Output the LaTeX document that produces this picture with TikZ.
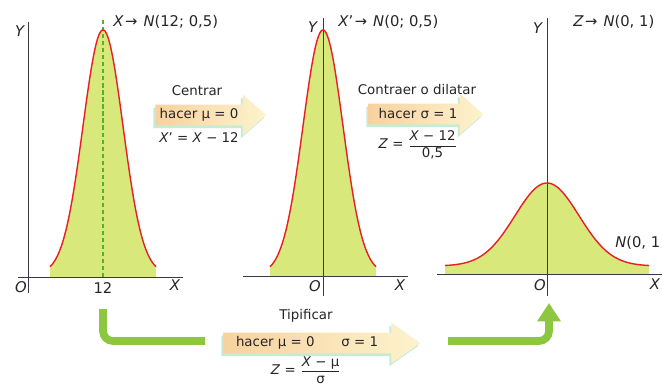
\documentclass[tikz,border=0pt]{standalone}
\usepackage{amsmath}
\usepackage{fontspec}
\setmainfont{DejaVu Sans}
\usetikzlibrary{arrows.meta,shapes.arrows,shadows}

\definecolor{bellfill}{RGB}{216,232,122}
\definecolor{bellred}{RGB}{232,30,40}
\definecolor{stepgreen}{RGB}{141,198,63}
\definecolor{dashgreen}{RGB}{90,175,45}
\definecolor{tanleft}{RGB}{247,210,158}
\definecolor{tanright}{RGB}{253,243,205}
\definecolor{mint}{RGB}{198,236,214}
\definecolor{inkgray}{RGB}{40,36,40}
\definecolor{axisgray}{RGB}{60,55,70}

\begin{document}
\begin{tikzpicture}[
    x=0.025cm, y=-0.025cm,
    declare function={bell(\t,\s)=exp(-(\t*\t)/(2*\s*\s));},
    axisline/.style={axisgray, line width=0.6pt},
    bellcurve/.style={bellred, line width=1pt},
    lbl/.style={inkgray, font=\fontsize{10.5}{12}\selectfont, inner sep=0pt},
    txt/.style={inkgray, font=\fontsize{9.5}{11}\selectfont, inner sep=0pt},
    band/.style={single arrow, inner xsep=0pt, inner ysep=0.25cm, single arrow head extend=0.25cm, single arrow tip angle=82, anchor=tail, left color=tanleft, right color=tanright, draw=none, drop shadow={shadow xshift=-0.05cm, shadow yshift=-0.07cm, fill=mint, opacity=1}},
    greenbar/.style={stepgreen, line width=5.5pt, rounded corners=0.25cm}
]
    \fill[white] (0,0) rectangle (662,389);
    \useasboundingbox (0,0) rectangle (662,389);

    % areas under the bells
    \fill[bellfill] (50,277) -- plot[domain=-53:53, samples=90, variable=\t] ({103+\t},{274-244*bell(\t,20)}) -- (156,277) -- cycle;
    \fill[bellfill] (270,276) -- plot[domain=-53:53, samples=90, variable=\t] ({323+\t},{274-244*bell(\t,20)}) -- (376,276) -- cycle;
    \fill[bellfill] (445,274) -- plot[domain=-102:102, samples=120, variable=\t] ({547+\t},{266-83*bell(\t,32)}) -- (649,274) -- cycle;

    % axes
    \draw[axisline] (28,22) -- (28,293);
    \draw[axisline] (18,277) -- (183,277);
    \draw[axisline] (323,18) -- (323,296);
    \draw[axisline] (243,276) -- (408,276);
    \draw[axisline] (547,18) -- (547,296);
    \draw[axisline] (437,274) -- (662,274);
    \draw[dashgreen, line width=0.8pt, dash pattern=on 3pt off 2pt] (103,20) -- (103,277);

    % bells
    \draw[bellcurve] plot[domain=-53:53, samples=90, variable=\t] ({103+\t},{274-244*bell(\t,20)});
    \draw[bellcurve] plot[domain=-53:53, samples=90, variable=\t] ({323+\t},{274-244*bell(\t,20)});
    \draw[bellcurve] plot[domain=-102:102, samples=120, variable=\t] ({547+\t},{266-83*bell(\t,32)});

    % axis labels
    \node[lbl] (yA) at (20,31) {\textit{Y}};
    \node[lbl] (oA) at (21,287) {\textit{O}};
    \node[lbl] (mu12) at (103,288) {12};
    \node[lbl] (xA) at (175,285) {\textit{X}};
    \node[lbl, anchor=west] (lawA) at (113,22) {\textit{X}\kern1pt→\kern1pt\ \textit{N}(12; 0,5)};
    \node[lbl] (yB) at (313,27) {\textit{Y}};
    \node[lbl] (oB) at (315,286) {\textit{O}};
    \node[lbl] (xB) at (400,285) {\textit{X}};
    \node[lbl, anchor=west] (lawB) at (338,22) {\textit{X}’\kern1pt→\kern1pt\ \textit{N}(0; 0,5)};
    \node[lbl] (yC) at (538,28) {\textit{Y}};
    \node[lbl] (oC) at (540,285) {\textit{O}};
    \node[lbl] (xC) at (655,284) {\textit{X}};
    \node[lbl, anchor=west] (lawC) at (573,22) {\textit{Z}\kern1pt→\kern1pt\ \textit{N}(0, 1)};
    \node[lbl, anchor=west] (normC) at (615,243) {\textit{N}(0, 1};

    % pale arrows
    \node[band, minimum height=2.775cm] (bandA) at (155,115) {};
    \node[band, minimum height=2.875cm] (bandB) at (368,114) {};
    \node[band, minimum height=4.925cm, single arrow tip angle=70] (bandC) at (223,343) {};

    \node[txt] (centrar) at (197,91) {Centrar};
    \node[txt] (hacerA) at (199,115) {hacer μ = 0};
    \node[txt] (shiftA) at (199,138) {\textit{X}’ = \textit{X} − 12};
    \node[txt] (contraer) at (417,90) {Contraer o dilatar};
    \node[txt] (hacerB) at (418,114) {hacer σ = 1};
    \node[txt] (scaleB) at (418,145) {\textit{Z} = $\dfrac{\text{\textit{X} − 12}}{\text{0,5}}$};
    \node[txt] (tipificar) at (306,316) {Tipificar};
    \node[txt] (hacerC) at (307,343) {hacer μ = 0\qquad σ = 1};
    \node[txt] (standC) at (306,370) {\textit{Z} = $\dfrac{\text{\textit{X} − μ}}{\text{σ}}$};

    % green steps
    \coordinate (dropA) at (103,309);
    \coordinate (runA) at (205,341);
    \coordinate (runB) at (448,341);
    \coordinate (riseB) at (549,303);
    \draw[greenbar] (dropA) |- (runA);
    \draw[greenbar, -{Triangle[width=16pt,length=13pt]}] (runB) -| (riseB);
\end{tikzpicture}
\end{document}
